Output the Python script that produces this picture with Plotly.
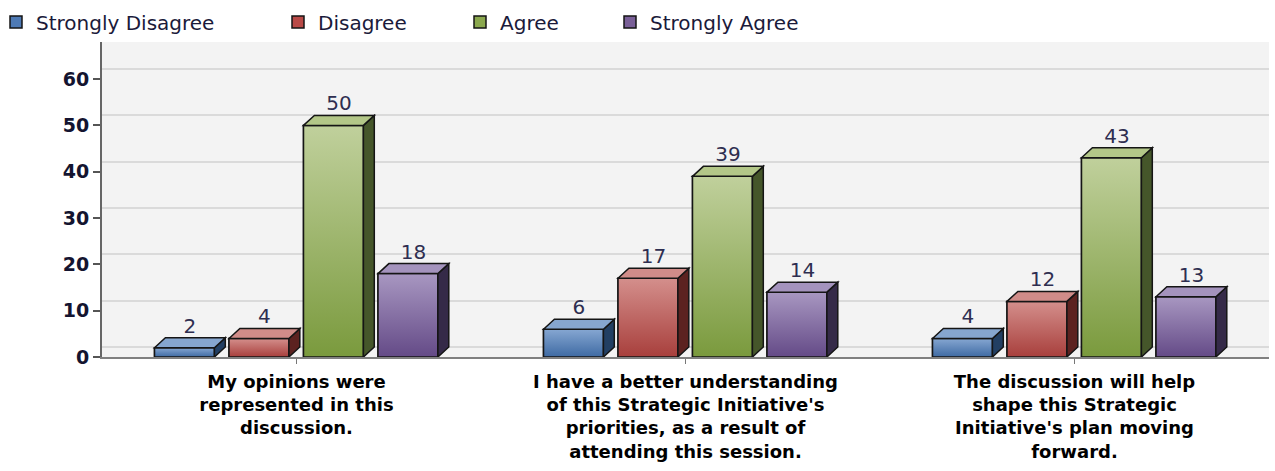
import plotly.graph_objects as go

# ---------------- data ----------------
categories = [
    "My opinions were<br>represented in this<br>discussion.",
    "I have a better understanding<br>of this Strategic Initiative's<br>priorities, as a result of<br>attending this session.",
    "The discussion will help<br>shape this Strategic<br>Initiative's plan moving<br>forward.",
]
series_names = ["Strongly Disagree", "Disagree", "Agree", "Strongly Agree"]
strongly_disagree = [2, 6, 4]
disagree = [4, 17, 12]
agree = [50, 39, 43]
strongly_agree = [18, 14, 13]
y_ticks = [0, 10, 20, 30, 40, 50, 60]

values = [strongly_disagree, disagree, agree, strongly_agree]

# ---------------- style ----------------
front_col = ["#4E7AB5", "#B94A47", "#8BA84E", "#7A6098"]
grad_bottom = ["#3E6AA3", "#A83F3C", "#7A9A3D", "#644A87"]
grad_top = ["#86A7D2", "#D48F8C", "#C0D09C", "#A897C1"]
side_col = ["#223F63", "#5C2220", "#45562A", "#352A48"]
top_col = ["#86A6CF", "#D08C89", "#B3C788", "#A493BD"]
edge = "#151515"

W = 0.154       # front face width (x units)
PITCH = 0.1915  # spacing between bars in a group
START = -0.365  # offset of first bar from category centre
DX = 0.028      # 3D depth, x units
DY = 2.16       # 3D depth, y units
Y_MAX = 68

FIG_W, FIG_H = 1275, 471
M_L, M_R, M_T, M_B = 102, 6, 42, 114
PLOT_W = FIG_W - M_L - M_R
PLOT_H = FIG_H - M_T - M_B

xpos = list(range(len(categories)))
legend_ids = ["legend", "legend2", "legend3", "legend4"]

fig = go.Figure()

shapes = []
for k, (name, vals) in enumerate(zip(series_names, values)):
    off = START + k * PITCH
    fig.add_trace(go.Bar(
        x=xpos, y=vals, width=W, offset=off, name=name,
        marker=dict(color=front_col[k], line=dict(color=edge, width=1.5)),
        legend=legend_ids[k], hoverinfo="y+name",
    ))
    for i, v in zip(xpos, vals):
        xl = i + off
        xr = xl + W
        # gradient front face over the bar
        fig.add_trace(go.Scatter(
            x=[xl, xr, xr, xl, xl], y=[0, 0, v, v, 0],
            mode="lines", fill="toself",
            fillgradient=dict(type="vertical",
                              colorscale=[[0, grad_bottom[k]], [1, grad_top[k]]]),
            line=dict(color=edge, width=1.5),
            showlegend=False, hoverinfo="skip",
        ))
        # 3D side & top faces derived from the data values
        shapes.append(dict(
            type="path", xref="x", yref="y", layer="above",
            path=f"M{xr},0 L{xr},{v} L{xr+DX},{v+DY} L{xr+DX},{DY} Z",
            fillcolor=side_col[k], line=dict(color=edge, width=1.5)))
        shapes.append(dict(
            type="path", xref="x", yref="y", layer="above",
            path=f"M{xl},{v} L{xl+DX},{v+DY} L{xr+DX},{v+DY} L{xr},{v} Z",
            fillcolor=top_col[k], line=dict(color=edge, width=1.5)))
    # value labels
    fig.add_trace(go.Scatter(
        x=[i + off + (W + DX) / 2 for i in xpos],
        y=[v + DY for v in vals],
        mode="text", text=[str(v) for v in vals], textposition="top center",
        textfont=dict(family="DejaVu Sans", size=20, color="#2E2E50"),
        showlegend=False, hoverinfo="skip", cliponaxis=False,
    ))

# dummy trace so the back-wall grid axis is drawn
fig.add_trace(go.Scatter(x=[None], y=[None], yaxis="y2", showlegend=False, hoverinfo="skip"))

# legends positioned individually (left edge of each legend box, px)
legend_px = [-4, 278, 460, 610]
legend_cy = 22
leg_common = dict(
    orientation="h", xanchor="left", yanchor="middle",
    y=(FIG_H - M_B - legend_cy) / PLOT_H,
    font=dict(family="DejaVu Sans", size=20, color="#1A1A3A"),
    bgcolor="rgba(0,0,0,0)",
)
legends = {}
for lid, px in zip(legend_ids, legend_px):
    legends[lid] = dict(leg_common, x=(px - M_L) / PLOT_W)

fig.update_layout(
    width=FIG_W, height=FIG_H, autosize=False,
    margin=dict(l=M_L, r=M_R, t=M_T, b=M_B, autoexpand=False),
    paper_bgcolor="white", plot_bgcolor="#F3F3F3",
    barmode="overlay",
    shapes=shapes,
    xaxis=dict(
        range=[-0.5, len(categories) - 0.5], tickvals=xpos, ticktext=categories,
        ticks="outside", ticklen=5, tickcolor="#777", tickwidth=1,
        ticklabelstandoff=2, automargin=False,
        showline=True, linecolor="#808080", linewidth=2,
        showgrid=False, zeroline=False,
        tickfont=dict(family="DejaVu Sans", size=18, color="black", weight="bold"),
    ),
    yaxis=dict(
        range=[0, Y_MAX], tickvals=y_ticks, showgrid=False, zeroline=False,
        ticks="outside", ticklen=7, tickwidth=2, tickcolor="#555",
        showline=True, linecolor="#666", linewidth=2, automargin=False,
        tickfont=dict(family="DejaVu Sans", size=19, color="#141430", weight="bold"),
    ),
    yaxis2=dict(
        overlaying="y", range=[-DY, Y_MAX - DY], tickvals=y_ticks,
        showgrid=True, gridcolor="#DADADA", gridwidth=1.5,
        showticklabels=False, ticks="", showline=False, zeroline=False,
    ),
    **legends,
)

fig.write_html("out.html", config={"displayModeBar": False},
               post_script="document.body.style.margin='0px';")
